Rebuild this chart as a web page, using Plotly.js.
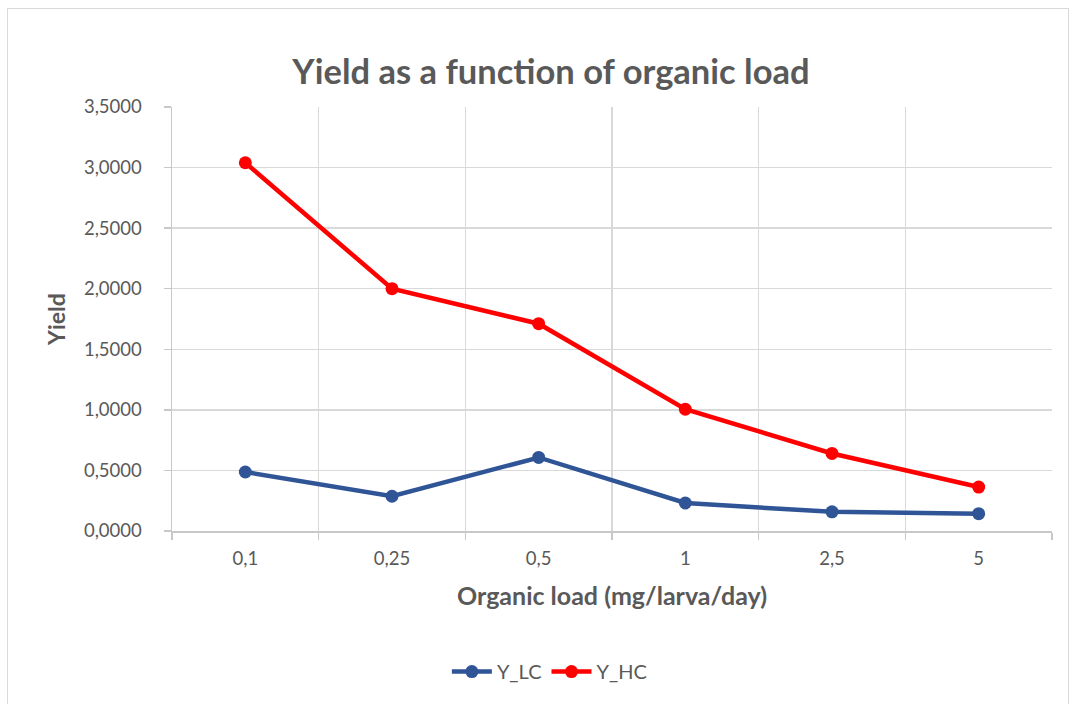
<!DOCTYPE html>
<html>
<head>
<meta charset="utf-8">
<script src="https://cdn.plot.ly/plotly-3.0.1.min.js"></script>
<style>
  html, body { margin: 0; padding: 0; background: #fff; }
  #wrap { position: relative; width: 1073px; height: 704px; overflow: hidden; }
  #chart { position: absolute; left: 0; top: 0; width: 1073px; height: 704px; }
  #frame { position: absolute; left: 7px; top: 8px; width: 1060px; height: 720px;
           border: 1px solid #d9d9d9; pointer-events: none; }
</style>
</head>
<body>
<div id="wrap">
  <div id="chart"></div>
  <div id="frame"></div>
</div>
<script>
const categories = ["0,1", "0,25", "0,5", "1", "2,5", "5"];
const yLC = [0.487, 0.287, 0.607, 0.231, 0.158, 0.143];
const yHC = [3.040, 2.000, 1.711, 1.005, 0.640, 0.363];
const yTicks = [0, 0.5, 1, 1.5, 2, 2.5, 3, 3.5];

const FONT = "Lato, 'Open Sans', sans-serif";
const GREY = "#595959";

const traces = [
  { x: categories, y: yLC, name: "Y_LC", type: "scatter", mode: "lines+markers",
    line: { color: "#2F5597", width: 4.5 }, marker: { color: "#2F5597", size: 13 } },
  { x: categories, y: yHC, name: "Y_HC", type: "scatter", mode: "lines+markers",
    line: { color: "#FF0000", width: 4.5 }, marker: { color: "#FF0000", size: 13 } }
];

const layout = {
  width: 1073, height: 704,
  margin: { l: 172, r: 21, t: 107, b: 173 },
  paper_bgcolor: "rgba(0,0,0,0)", plot_bgcolor: "#fff",
  separators: ", ",
  font: { family: FONT, color: GREY, size: 18 },
  title: { text: "<b>Yield as a function of organic load</b>", font: { family: FONT, size: 34.5, color: GREY },
           xref: "container", x: 0.5135, xanchor: "center", yref: "container", y: 0.898, yanchor: "middle" },
  xaxis: {
    type: "category", range: [-0.5, 5.5], tickson: "boundaries", showgrid: true, gridcolor: "#d9d9d9", gridwidth: 1.5,
    showline: true, linecolor: "#c8c8c8", linewidth: 1.5,
    ticks: "outside", ticklen: 7, tickcolor: "#c8c8c8", tickwidth: 1.5, ticklabelstandoff: 10,
    tickfont: { family: FONT, size: 18.5, color: GREY },
    title: { text: "<b>Organic load (mg/larva/day)</b>", font: { family: FONT, size: 25, color: GREY }, standoff: 20 },
    zeroline: false, fixedrange: true
  },
  yaxis: {
    range: [0, 3.5], tickvals: yTicks, tickformat: ".4f",
    showgrid: true, gridcolor: "#d9d9d9", gridwidth: 1.5,
    showline: true, linecolor: "#c8c8c8", linewidth: 1.5,
    ticks: "outside", ticklen: 7, tickcolor: "#c8c8c8", tickwidth: 1.5, ticklabelstandoff: 18,
    tickfont: { family: FONT, size: 18.5, color: GREY },
    title: { text: "<b>Yield</b>", font: { family: FONT, size: 23, color: GREY }, standoff: 12 },
    zeroline: false, fixedrange: true
  },
  showlegend: true,
  legend: { orientation: "h", xref: "container", x: 0.512, xanchor: "center",
            yref: "container", y: 0.046, yanchor: "middle",
            font: { family: FONT, size: 20, color: GREY }, itemwidth: 40 }
};

Plotly.newPlot("chart", traces, layout, { displayModeBar: false, staticPlot: true });
</script>
</body>
</html>
